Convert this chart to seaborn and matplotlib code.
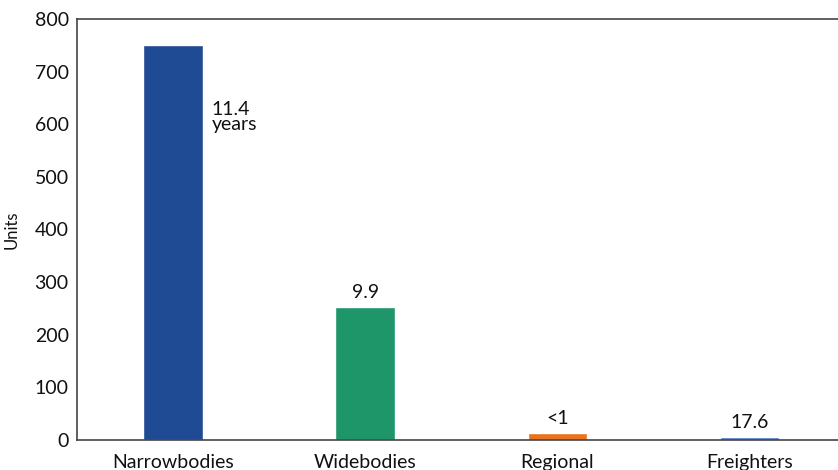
import matplotlib
matplotlib.use("Agg")
import matplotlib.pyplot as plt
import seaborn as sns
import pandas as pd

categories = ["Narrowbodies", "Widebodies", "Regional", "Freighters"]
units = [750, 253, 13, 6]
age_labels = ["11.4\nyears", "9.9", "<1", "17.6"]
colors = ["#1F4A94", "#1F966A", "#E8731E", "#4A72C2"]

sns.set_style("white")
plt.rcParams['font.family'] = ['Lato', 'DejaVu Sans']

df = pd.DataFrame({"cat": categories, "units": units})

fig = plt.figure(figsize=(8.38, 4.70), dpi=100)
ax = fig.add_axes([77/838, 30/470, 1 - 77/838, 421/470])

sns.barplot(data=df, x="cat", y="units", hue="cat", palette=colors,
            width=0.31, legend=False, ax=ax, saturation=1)

ax.set_xlim(-0.5, 3.46)
ax.set_ylim(0, 800)
ax.set_yticks(range(0, 801, 100))
ax.set_xlabel("")
ax.set_ylabel("Units", fontsize=12, color="#111111")
ax.yaxis.set_label_coords(-77/838 + 14/838, 0.5)

# category boundary ticks
ax.set_xticks([0, 1, 2, 3])
ax.set_xticklabels(categories, fontsize=14, color="#111111")
ax.tick_params(axis="x", length=0, pad=10)
ax.set_xticks([0.5, 1.5, 2.5], minor=True)
ax.tick_params(axis="x", which="minor", direction="in", length=11, width=1, color="#333333")
ax.tick_params(axis="y", direction="in", length=11, width=1, color="#333333",
               labelsize=14, labelcolor="#111111", pad=6)

for s in ["left", "top", "bottom"]:
    ax.spines[s].set_visible(True)
    ax.spines[s].set_color("#444444")
    ax.spines[s].set_linewidth(1.2)
ax.spines["right"].set_visible(False)

# annotations
ax.text(0.2, 614, age_labels[0], ha="left", va="center", fontsize=14,
        color="#111111", linespacing=0.9)
for i in range(1, 4):
    ax.text(i, units[i] + 12, age_labels[i], ha="center", va="bottom",
            fontsize=14, color="#111111")

fig.savefig("out.png", dpi=100)
